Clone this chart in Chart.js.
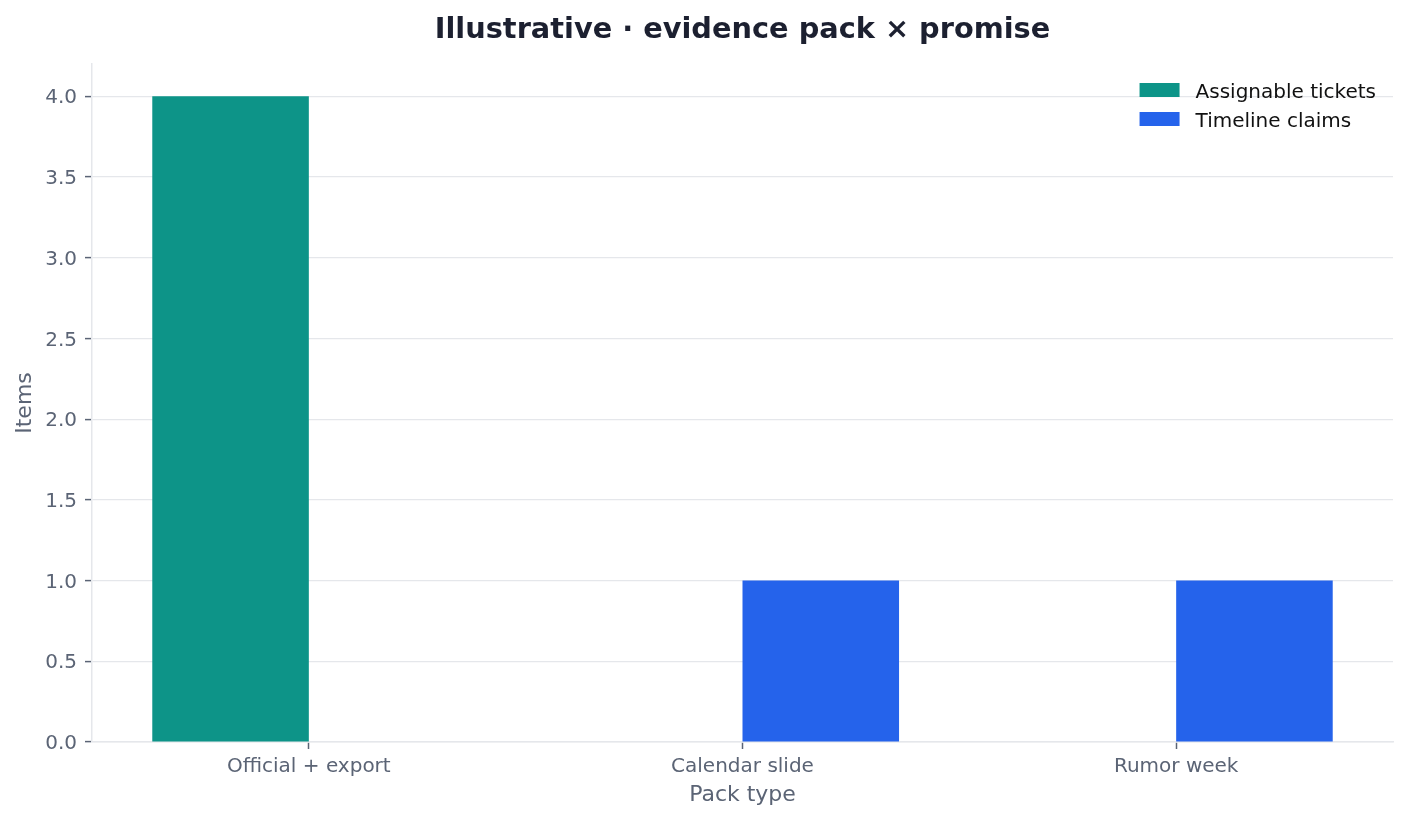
<!DOCTYPE html>
<html>
<head>
<meta charset="utf-8">
<script src="https://cdn.jsdelivr.net/npm/chart.js@4/dist/chart.umd.min.js"></script>
<style>
    html, body { margin: 0; padding: 0; background: #ffffff; }
    #wrap { width: 1410px; height: 821px; }
</style>
</head>
<body>
<div id="wrap"><canvas id="PackChart" width="1410" height="821"></canvas></div>
<script>
const categories = ['Official + export', 'Calendar slide', 'Rumor week'];
const assignableTickets = [4, 0, 0];
const timelineClaims = [0, 1, 1];
const yTicks = [0, 0.5, 1, 1.5, 2, 2.5, 3, 3.5, 4];

const chartTitle = 'Illustrative · evidence pack × promise';
const textGray = '#5b6475';
const gridGray = '#e5e7eb';

// matplotlib-like title, centred over the plot area
const titlePlugin = {
    id: 'axTitle',
    afterDraw(chart) {
        const { ctx, chartArea } = chart;
        ctx.save();
        ctx.font = 'bold 28.8px "DejaVu Sans"';
        ctx.fillStyle = '#1c2030';
        ctx.textAlign = 'center';
        ctx.textBaseline = 'alphabetic';
        ctx.fillText(chartTitle, (chartArea.left + chartArea.right) / 2, chartArea.top - 26);
        ctx.restore();
    }
};

// frameless legend inside the top-right corner of the axes
const innerLegend = {
    id: 'innerLegend',
    afterDatasetsDraw(chart) {
        const { ctx, chartArea } = chart;
        const sets = chart.data.datasets;
        ctx.save();
        ctx.font = '20px "DejaVu Sans"';
        const maxW = Math.max(...sets.map(d => ctx.measureText(d.label).width));
        const textX = chartArea.right - 17 - maxW;
        const boxX = textX - 56;
        sets.forEach((d, i) => {
            const top = chartArea.top + 19 + i * 29;
            ctx.fillStyle = d.backgroundColor;
            ctx.fillRect(boxX, top, 40, 14);
            ctx.fillStyle = '#111111';
            ctx.textAlign = 'left';
            ctx.textBaseline = 'alphabetic';
            ctx.fillText(d.label, textX, top + 15);
        });
        ctx.restore();
    }
};

const ctx = document.getElementById('PackChart').getContext('2d');

new Chart(ctx, {
    type: 'bar',
    data: {
        labels: categories,
        datasets: [{
            label: 'Assignable tickets',
            data: assignableTickets,
            backgroundColor: '#0d9488',
            borderWidth: 0,
        }, {
            label: 'Timeline claims',
            data: timelineClaims,
            backgroundColor: '#2563eb',
            borderWidth: 0,
        }]
    },
    options: {
        responsive: false,
        animation: false,
        layout: {
            padding: { left: 0, right: 17, top: 64, bottom: 0 }
        },
        datasets: {
            bar: {
                categoryPercentage: 0.722,
                barPercentage: 1.0,
            }
        },
        plugins: {
            legend: { display: false },
            title: { display: false },
            tooltip: { enabled: false },
        },
        scales: {
            x: {
                afterFit(scale) { scale.height = 79; },
                grid: {
                    offset: false,
                    drawOnChartArea: false,
                    drawTicks: true,
                    tickLength: 7,
                    tickWidth: 1.5,
                    tickColor: textGray,
                },
                border: { color: gridGray, width: 1.5 },
                ticks: {
                    padding: 6,
                    color: textGray,
                    font: { family: 'DejaVu Sans', size: 20 },
                },
                title: {
                    display: true,
                    text: 'Pack type',
                    color: textGray,
                    padding: { top: 4, bottom: 13 },
                    font: { family: 'DejaVu Sans', size: 22 },
                }
            },
            y: {
                min: 0,
                max: 4.2,
                afterFit(scale) { scale.width = 92; },
                afterBuildTicks(scale) {
                    scale.ticks = yTicks.map(v => ({ value: v }));
                },
                grid: {
                    color: gridGray,
                    lineWidth: 1.2,
                    drawTicks: true,
                    tickLength: 7,
                    tickWidth: 1.5,
                    tickColor: textGray,
                },
                border: { color: gridGray, width: 1.5 },
                ticks: {
                    padding: 8,
                    labelOffset: 2,
                    color: textGray,
                    font: { family: 'DejaVu Sans', size: 20 },
                    callback: (v) => Number(v).toFixed(1),
                },
                title: {
                    display: true,
                    text: 'Items',
                    color: textGray,
                    padding: { top: 12, bottom: 4 },
                    font: { family: 'DejaVu Sans', size: 22 },
                }
            }
        }
    },
    plugins: [titlePlugin, innerLegend]
});
</script>
</body>
</html>
